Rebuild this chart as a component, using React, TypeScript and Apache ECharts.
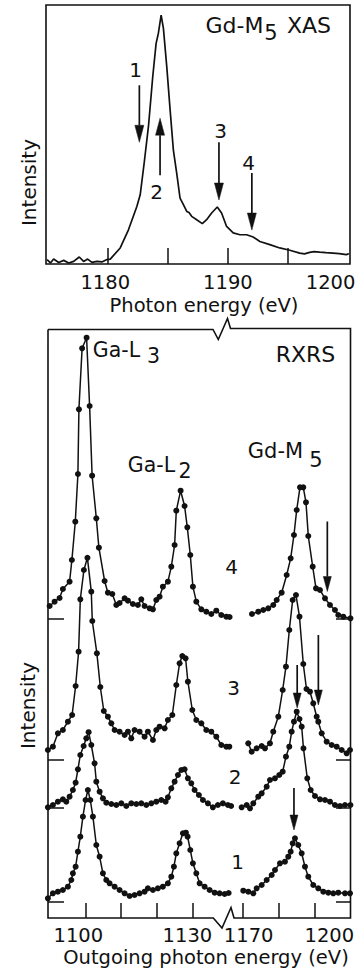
import React, { useEffect, useRef } from "react";
import * as echarts from "echarts";

const INK = "#111";
const FONT = '"DejaVu Sans", sans-serif';

// ---------- Top panel: Gd-M5 XAS  [photon energy eV, intensity 0..100] ----------
const xasSpectrum: [number, number][] = [
  [1174.89, 1.7], [1175.17, 0.4], [1175.44, 1.9], [1175.86, 0.6], [1176.28, 1.4], [1176.69, 0.4],
  [1177.11, 1.0], [1177.58, 2.7], [1177.94, 1.0], [1178.28, 1.9], [1178.64, 0.6], [1179.06, 1.0],
  [1179.47, 0.8], [1179.89, 1.7], [1180.17, 1.9], [1181.0, 6.2], [1181.69, 13.2], [1182.39, 22.2],
  [1182.67, 26.7], [1183.0, 38.9], [1183.36, 53.1], [1183.72, 72.4], [1184.0, 85.2], [1184.19, 89.1],
  [1184.42, 96.1], [1184.61, 91.0], [1184.89, 76.2], [1185.17, 59.5], [1185.44, 44.1], [1185.72, 35.1],
  [1186.0, 25.4], [1186.28, 22.9], [1186.56, 20.3], [1186.75, 19.9], [1186.97, 18.4], [1187.39, 17.1],
  [1187.86, 15.6], [1188.22, 17.1], [1188.64, 19.7], [1189.11, 22.0], [1189.47, 19.7], [1189.89, 14.5],
  [1190.44, 12.0], [1191.0, 11.3], [1191.56, 11.3], [1192.11, 10.4], [1192.67, 8.7], [1193.5, 7.5],
  [1194.33, 6.2], [1195.17, 5.3], [1196.0, 4.2], [1196.4, 3.9], [1196.83, 4.5], [1197.2, 4.8],
  [1197.67, 4.6], [1198.2, 4.4], [1198.78, 4.2], [1199.3, 4.0], [1199.89, 3.6], [1200.1, 4.0],
];
// arrows: [energy, from intensity, to intensity]
const xasArrows: [number, number, number][] = [
  [1182.6, 69, 47],
  [1184.33, 34.3, 56.3],
  [1189.25, 47, 24.7],
  [1192.0, 35.1, 13.1],
];
const xasTicks = [1180, 1185, 1190, 1195];
const xasTickLabels = [1180, 1190, 1200];

// ---------- Bottom panel: RXRS  [outgoing energy eV, intensity above its baseline] ----------
const spectrumOffsets = [3.2, 22.0, 31.6, 59.8]; // spectra 1..4 baselines

const spec1Left: [number, number][] = [
  [1089.57, 0.74], [1090.97, 1.74], [1092.36, 2.06], [1093.75, 2.4], [1095.15, 3.06], [1096.1, 4.4],
  [1096.54, 5.74], [1097.3, 7.06], [1097.94, 10.06], [1098.61, 13.06], [1099.33, 17.06], [1100.08, 20.4],
  [1100.72, 22.4], [1101.39, 20.4], [1102.12, 17.06], [1103.07, 11.4], [1103.99, 9.06], [1104.91, 5.74],
  [1105.85, 4.4], [1106.77, 3.74], [1108.17, 3.06], [1109.56, 2.4], [1110.96, 1.74], [1112.35, 1.2],
  [1113.74, 1.4], [1115.14, 1.74], [1116.53, 2.06], [1117.45, 2.74], [1118.85, 2.4], [1120.24, 2.74],
  [1121.63, 3.06], [1123.03, 3.74], [1123.98, 5.06], [1124.7, 7.06], [1125.37, 9.74], [1126.29, 11.74],
  [1127.21, 13.74], [1128.05, 13.86], [1128.52, 13.06], [1129.27, 10.4], [1130.0, 7.74], [1130.95, 5.74],
  [1131.87, 3.74], [1133.26, 3.06], [1134.66, 2.4], [1136.05, 1.86], [1137.44, 1.74], [1138.84, 1.6],
  [1139.96, 1.8],
];
const spec1Right: [number, number][] = [
  [1170.17, 2.26], [1171.56, 2.06], [1172.96, 1.74], [1173.9, 2.74], [1175.3, 3.4], [1176.69, 4.4],
  [1178.09, 5.4], [1179.01, 6.4], [1180.4, 7.74], [1181.79, 8.06], [1182.71, 9.06], [1183.38, 10.06],
  [1183.94, 11.74], [1184.58, 12.74], [1185.5, 11.4], [1186.45, 9.74], [1187.37, 7.06], [1188.29, 5.06],
  [1189.68, 3.4], [1191.08, 2.74], [1192.47, 2.06], [1193.87, 1.86], [1195.26, 1.74], [1196.65, 1.86],
  [1198.52, 1.74], [1199.92, 1.74],
];
const spec2Left: [number, number][] = [
  [1089.57, 0.14], [1090.97, 0.6], [1092.36, 1.26], [1093.75, 1.74], [1094.7, 1.26], [1095.62, 2.26],
  [1096.54, 3.6], [1097.3, 5.06], [1097.94, 7.74], [1098.61, 10.6], [1099.53, 12.4], [1100.28, 13.94],
  [1100.92, 15.16], [1101.67, 12.6], [1102.59, 8.94], [1103.07, 5.26], [1103.99, 3.26], [1104.91, 1.94],
  [1105.85, 1.06], [1107.25, 0.8], [1108.64, 0.6], [1110.04, 0.94], [1111.43, 0.4], [1112.82, 0.94],
  [1114.22, 0.8], [1115.61, 0.94], [1117.01, 0.6], [1118.4, 0.94], [1119.79, 1.26], [1121.19, 1.6],
  [1122.39, 1.26], [1123.03, 2.14], [1123.98, 3.94], [1124.9, 5.26], [1125.82, 6.6], [1126.77, 7.6],
  [1127.68, 7.74], [1128.6, 5.94], [1129.55, 4.94], [1130.47, 3.6], [1131.67, 2.6], [1132.79, 1.6],
  [1134.18, 0.94], [1135.57, 0.14], [1136.97, 0.6], [1138.36, 0.94], [1139.76, 0.6], [1140.65, 0.4],
];
const spec2Right: [number, number][] = [
  [1169.72, 0.14], [1171.12, 0.6], [1172.04, -0.06], [1172.96, 0.94], [1174.35, 2.26], [1175.3, 2.94],
  [1176.69, 4.26], [1177.61, 5.6], [1179.01, 5.94], [1180.2, 6.6], [1181.15, 7.26], [1182.07, 10.26],
  [1182.99, 12.26], [1183.66, 15.26], [1184.3, 17.26], [1185.06, 19.26], [1185.84, 17.8], [1186.45, 16.26],
  [1186.95, 11.94], [1188.01, 5.94], [1188.96, 3.6], [1190.16, 2.4], [1191.55, 1.74], [1192.95, 1.6],
  [1194.34, 1.26], [1195.73, 0.6], [1197.13, 0.4], [1198.52, 0.6], [1200.05, 0.6],
];
const spec3Left: [number, number][] = [
  [1089.57, 2.0], [1090.97, 2.66], [1092.36, 5.34], [1093.75, 6.0], [1095.15, 7.66], [1096.32, 9.0],
  [1097.3, 14.8], [1098.13, 21.66], [1098.61, 32.14], [1099.61, 38.0], [1100.59, 40.44], [1101.67, 33.66],
  [1101.95, 27.8], [1103.23, 21.34], [1104.18, 14.6], [1105.16, 9.8], [1106.3, 8.66], [1107.25, 7.34],
  [1108.17, 6.0], [1109.56, 5.66], [1110.96, 5.0], [1111.88, 5.66], [1112.82, 4.34], [1113.74, 6.0],
  [1115.14, 5.66], [1116.53, 4.66], [1117.45, 5.66], [1118.85, 4.0], [1119.79, 6.0], [1120.71, 6.66],
  [1122.11, 6.34], [1123.03, 8.0], [1124.26, 9.0], [1125.37, 15.0], [1126.29, 19.34], [1127.04, 20.8],
  [1127.96, 20.34], [1128.6, 15.66], [1129.83, 10.0], [1130.95, 8.0], [1132.34, 7.34], [1133.73, 6.0],
  [1135.13, 5.66], [1136.52, 4.66], [1137.92, 3.0], [1139.31, 2.66], [1140.15, 2.66],
];
const spec3Right: [number, number][] = [
  [1171.56, 3.34], [1172.51, 1.66], [1173.9, 2.34], [1175.3, 2.8], [1176.22, 2.34], [1177.61, 3.34],
  [1178.53, 5.66], [1179.93, 8.66], [1181.15, 14.0], [1182.07, 18.66], [1183.0, 26.0], [1183.94, 32.0],
  [1184.86, 33.0], [1185.84, 28.66], [1186.9, 19.2], [1187.79, 14.2], [1188.76, 13.66], [1189.68, 11.34],
  [1190.63, 8.66], [1191.08, 7.66], [1192.03, 5.34], [1193.42, 3.66], [1194.81, 3.0], [1196.21, 2.66],
  [1197.6, 2.0], [1198.99, 1.34], [1199.92, 2.0],
];
const spec4Left: [number, number][] = [
  [1090.05, 2.6], [1091.44, 3.46], [1092.83, 4.2], [1093.75, 6.0], [1095.62, 7.46], [1096.26, 11.8],
  [1097.21, 19.46], [1097.94, 29.0], [1098.22, 41.94], [1099.11, 54.14], [1100.36, 56.26], [1101.2, 42.6],
  [1101.9, 28.66], [1103.07, 20.14], [1103.79, 14.26], [1105.38, 7.6], [1106.3, 5.26], [1107.53, 5.0],
  [1108.64, 2.8], [1109.56, 3.2], [1110.96, 4.14], [1111.88, 3.66], [1113.27, 3.0], [1114.66, 2.8],
  [1115.61, 3.94], [1116.53, 2.6], [1117.93, 2.14], [1118.85, 1.94], [1119.79, 3.8], [1120.71, 4.46],
  [1121.63, 6.46], [1123.03, 7.46], [1123.98, 10.46], [1124.9, 14.8], [1125.37, 21.66], [1126.57, 25.66],
  [1127.68, 22.6], [1128.44, 18.34], [1129.27, 12.8], [1130.0, 6.46], [1130.95, 3.46], [1132.34, 1.94],
  [1133.73, 1.46], [1135.13, 1.0], [1136.52, 1.66], [1137.92, 0.8], [1139.31, 0.46], [1140.23, 0.4],
];
const spec4Right: [number, number][] = [
  [1172.59, 1.0], [1174.35, 1.46], [1175.74, 1.8], [1177.14, 2.14], [1178.53, 2.8], [1179.48, 3.8],
  [1180.87, 5.26], [1182.27, 8.8], [1183.38, 12.14], [1184.3, 16.8], [1185.06, 21.8], [1185.98, 26.34],
  [1186.9, 26.34], [1187.65, 23.34], [1188.29, 16.6], [1189.52, 10.46], [1190.44, 6.14], [1191.55, 5.8],
  [1192.95, 4.14], [1194.34, 2.8], [1195.73, 1.8], [1196.65, 0.8], [1198.05, 0.46], [1200.05, 0.14],
];
// arrows on the Gd-M5 part: [energy, from, to] (absolute plot units)
const rxrsArrows: [number, number, number][] = [
  [1193.6, 79.3, 65.3],
  [1191.1, 56.6, 42.6],
  [1185.2, 50.6, 42.0],
  [1184.3, 26.0, 17.6],
];
const leftTicks = [1100, 1110, 1120, 1130];
const leftTickLabels = [1100, 1130];
const rightTicks = [1170, 1180, 1190];
const rightTickLabels = [1170, 1200];

function tickLabels(values: number[], shifts: number[], fontSize: number, margin: number) {
  const rich: any = {};
  values.forEach((v, i) => {
    const s = shifts[i];
    rich["t" + v] = {
      fontSize,
      fontFamily: FONT,
      color: INK,
      padding: [0, s < 0 ? -2 * s : 0, 0, s > 0 ? 2 * s : 0],
    };
  });
  return {
    show: true,
    customValues: values,
    formatter: (v: number) => `{t${Math.round(v)}|${Math.round(v)}}`,
    rich,
    margin,
    fontSize,
    fontFamily: FONT,
    color: INK,
    showMinLabel: true,
    showMaxLabel: true,
    hideOverlap: false,
  };
}

const arrowRender = (headLen: number, headHalf: number) => (_p: any, api: any) => {
  const x = api.value(0);
  const p1 = api.coord([x, api.value(1)]);
  const p2 = api.coord([x, api.value(2)]);
  const dir = p2[1] > p1[1] ? 1 : -1;
  const baseY = p2[1] - dir * headLen;
  return {
    type: "group",
    children: [
      { type: "line", shape: { x1: p1[0], y1: p1[1], x2: p2[0], y2: baseY }, style: { stroke: INK, lineWidth: 1.7 } },
      {
        type: "polygon",
        shape: { points: [[p2[0], p2[1]], [p2[0] - headHalf, baseY], [p2[0] + headHalf, baseY]] },
        style: { fill: INK, stroke: INK, lineWidth: 0.5 },
      },
    ],
  };
};

function txt(text: string, x: number, y: number, size: number, rotation = 0) {
  return {
    type: "text",
    x,
    y,
    rotation,
    silent: true,
    style: { text, fontSize: size, fontFamily: FONT, fill: INK, align: "center", verticalAlign: "middle" },
  };
}

function spectrumSeries(data: [number, number][], offset: number, axis: number) {
  return {
    type: "line",
    xAxisIndex: axis,
    yAxisIndex: axis,
    data: data.map(([e, v]) => [e, v + offset]),
    symbol: "circle",
    symbolSize: 6,
    showSymbol: true,
    showAllSymbol: true,
    clip: false,
    silent: true,
    itemStyle: { color: INK },
    lineStyle: { color: INK, width: 1.5 },
  };
}

export default function App() {
  const ref = useRef<HTMLDivElement>(null);
  useEffect(() => {
    if (!ref.current) return;
    const chart = echarts.init(ref.current, null, { renderer: "svg" });
    const spectra = [
      [spec1Left, spec1Right],
      [spec2Left, spec2Right],
      [spec3Left, spec3Right],
      [spec4Left, spec4Right],
    ];
    const series: any[] = [
      {
        type: "line",
        xAxisIndex: 0,
        yAxisIndex: 0,
        data: xasSpectrum,
        showSymbol: false,
        silent: true,
        lineStyle: { color: INK, width: 1.7 },
      },
      {
        type: "custom",
        xAxisIndex: 0,
        yAxisIndex: 0,
        data: xasArrows,
        encode: { x: 0, y: [1, 2] },
        renderItem: arrowRender(17, 4.5),
        silent: true,
      },
      {
        type: "custom",
        xAxisIndex: 2,
        yAxisIndex: 2,
        data: rxrsArrows,
        encode: { x: 0, y: [1, 2] },
        renderItem: arrowRender(15, 4),
        silent: true,
      },
    ];
    spectra.forEach(([l, r], i) => {
      series.push(spectrumSeries(l, spectrumOffsets[i], 1));
      series.push(spectrumSeries(r, spectrumOffsets[i], 2));
    });

    const bottomTick = { inside: true, length: 15, lineStyle: { color: INK, width: 1.5 } };
    const gridBase = { containLabel: false, outerBoundsMode: "none" };

    const option: any = {
      animation: false,
      backgroundColor: "#fff",
      grid: [
        { ...gridBase, left: 46, top: 5, width: 304, height: 259, show: true, borderColor: INK, borderWidth: 1.6, backgroundColor: "transparent" },
        { ...gridBase, left: 48, top: 329, width: 184, height: 589 },
        { ...gridBase, left: 238, top: 329, width: 113, height: 589 },
      ],
      xAxis: [
        {
          type: "value", gridIndex: 0, min: 1174.8, max: 1200.2,
          axisLine: { show: false },
          axisTick: { show: true, inside: true, length: 16, customValues: xasTicks, lineStyle: { color: INK, width: 1.5 } },
          axisLabel: tickLabels(xasTickLabels, [-3, 0, -17], 19.5, 8),
          splitLine: { show: false },
        },
        {
          type: "value", gridIndex: 1, min: 1089.6, max: 1140.9,
          axisLine: { show: false },
          axisTick: { show: true, ...bottomTick, customValues: leftTicks },
          axisLabel: tickLabels(leftTickLabels, [-7, -5.5], 19.5, 7),
          splitLine: { show: false },
        },
        {
          type: "value", gridIndex: 2, min: 1168.7, max: 1200.2,
          axisLine: { show: false },
          axisTick: { show: true, ...bottomTick, customValues: rightTicks },
          axisLabel: tickLabels(rightTickLabels, [6, -21], 19.5, 7),
          splitLine: { show: false },
        },
      ],
      yAxis: [
        { type: "value", gridIndex: 0, min: 0, max: 100, show: false },
        {
          type: "value", gridIndex: 1, min: 0, max: 117.8,
          axisLine: { show: false },
          axisTick: { show: true, inside: true, length: 16, customValues: spectrumOffsets, lineStyle: { color: INK, width: 1.5 } },
          axisLabel: { show: false },
          splitLine: { show: false },
        },
        {
          type: "value", gridIndex: 2, min: 0, max: 117.8, position: "right",
          axisLine: { show: false },
          axisTick: { show: true, inside: true, length: 15, customValues: spectrumOffsets, lineStyle: { color: INK, width: 1.5 } },
          axisLabel: { show: false },
          splitLine: { show: false },
        },
      ],
      graphic: [
        {
          type: "polyline",
          silent: true,
          shape: {
            points: [
              [48, 329.5], [213, 329.5], [218.3, 339.5], [227.5, 318.5], [230.5, 328.5], [350.5, 328.5],
              [350.5, 918], [234, 918], [231, 907.5], [222, 928], [213.3, 918], [48, 918], [48, 329.5],
            ],
          },
          style: { stroke: INK, lineWidth: 1.6, fill: "none" },
        },
        txt("Gd-M", 234.5, 25.5, 22),
        txt("5", 271, 33, 21),
        txt("XAS", 309, 25.5, 22),
        txt("1", 135.5, 69.5, 20),
        txt("2", 156.5, 192, 20),
        txt("3", 220.5, 130.5, 20),
        txt("4", 248.5, 162.5, 20),
        txt("Intensity", 29, 182.5, 20, Math.PI / 2),
        txt("Photon energy (eV)", 204, 305, 19.5),
        txt("Ga-L", 116.5, 350, 20.5),
        txt("3", 153.5, 356, 20.5),
        txt("Ga-L", 151.5, 464.5, 20.5),
        txt("2", 185, 471, 20.5),
        txt("Gd-M", 275.5, 450.5, 21),
        txt("5", 316, 460, 21),
        txt("RXRS", 305.5, 354, 22),
        txt("4", 231.5, 566.5, 20),
        txt("3", 233.5, 687.5, 20),
        txt("2", 235, 776.5, 20),
        txt("1", 237.5, 861.5, 20),
        txt("Intensity", 28, 705.5, 20, Math.PI / 2),
        txt("Outgoing photon energy (eV)", 206, 957, 19.5),
      ],
      series,
    };
    chart.setOption(option);
    return () => chart.dispose();
  }, []);
  return (
    <div
      ref={ref}
      style={{ position: "fixed", left: 0, top: 0, width: 364, height: 980, background: "#fff" }}
    />
  );
}
